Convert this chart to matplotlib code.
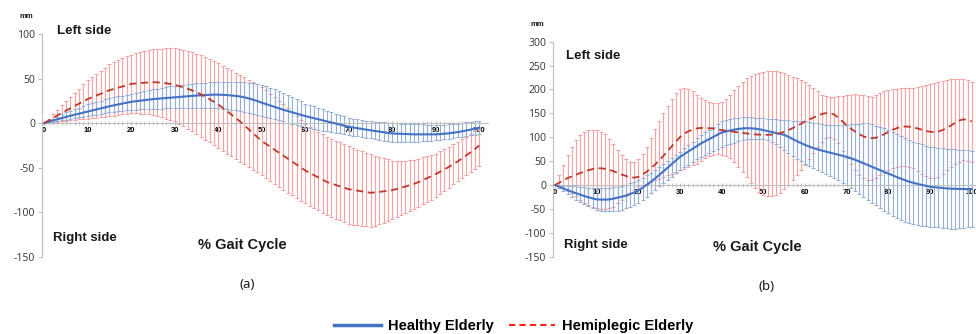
#!/usr/bin/env python3
"""
Lateral displacement over the gait cycle - healthy vs hemiplegic elderly.
Two panels (a) and (b), mean curves with +/- bars at every 1 % of the cycle.
"""

import numpy as np
import matplotlib
matplotlib.use("Agg")
import matplotlib.pyplot as plt
from matplotlib.lines import Line2D

# ---------------------------------------------------------------- data
gait_pct = list(range(101))

# panel (a): mean, upper and lower end of the bars (mm)
healthy_a_mean = [
    0, 1.5, 3, 4.3, 5.7, 7, 8.3, 9.5, 10.7, 11.9, 13,
    14.2, 15.4, 16.6, 17.8, 19, 20, 21, 22, 23, 24,
    24.6, 25.2, 25.8, 26.4, 27, 27.4, 27.8, 28.2, 28.6, 29,
    29.4, 29.8, 30.2, 30.6, 31, 31.3, 31.6, 31.8, 32, 32,
    31.8, 31.5, 31.1, 30.6, 30, 29, 27.8, 26.4, 24.8, 23,
    21.4, 19.8, 18.2, 16.6, 15, 13.6, 12.2, 10.8, 9.4, 8,
    6.8, 5.6, 4.4, 3.2, 2, 0.8, -0.4, -1.6, -2.8, -4,
    -4.8, -5.6, -6.4, -7.2, -8, -8.7, -9.4, -10.1, -10.8, -11.5,
    -11.7, -11.9, -12.1, -12.3, -12.5, -12.5, -12.5, -12.5, -12.5, -12.5,
    -12.2, -11.8, -11.3, -10.7, -10, -9.1, -8.2, -7.2, -6.1, -5]
healthy_a_upper = [
    0, 2.5, 5, 7.5, 10, 12, 14, 15.8, 17.6, 19.4, 21,
    22.4, 23.8, 25.2, 26.6, 28, 29, 30, 31, 32, 33,
    34, 35, 36, 37, 38, 38.8, 39.6, 40.4, 41.2, 42,
    42.6, 43.2, 43.8, 44.4, 45, 45.3, 45.6, 45.9, 46.2, 46.5,
    46.6, 46.7, 46.7, 46.6, 46.5, 46, 45.4, 44.7, 43.9, 43,
    41.4, 39.6, 37.8, 35.9, 34, 31.6, 29.2, 26.8, 24.4, 22,
    20.4, 18.8, 17.2, 15.6, 14, 12.4, 10.8, 9.2, 7.6, 6,
    5.2, 4.4, 3.6, 2.8, 2, 1.6, 1.2, 0.8, 0.4, 0,
    -0.2, -0.4, -0.6, -0.8, -1, -1.2, -1.4, -1.6, -1.8, -2,
    -1.8, -1.5, -1.2, -0.9, -0.5, 0.2, 0.9, 1.6, 2.3, 3]
healthy_a_lower = [
    0, 0.8, 1.6, 2.4, 3.2, 4, 4.8, 5.6, 6.4, 7.2, 8,
    8.8, 9.6, 10.4, 11.2, 12, 12.6, 13.2, 13.8, 14.4, 15,
    15.2, 15.4, 15.6, 15.8, 16, 16.2, 16.4, 16.6, 16.8, 17,
    17, 17, 17, 17, 17, 16.9, 16.8, 16.7, 16.6, 16.5,
    16.1, 15.6, 15.1, 14.6, 14, 12.9, 11.8, 10.6, 9.3, 8,
    6.8, 5.6, 4.4, 3.2, 2, 0.6, -0.8, -2.2, -3.6, -5,
    -5.8, -6.6, -7.4, -8.2, -9, -9.8, -10.6, -11.4, -12.2, -13,
    -13.8, -14.6, -15.4, -16.2, -17, -17.8, -18.6, -19.4, -20.2, -21,
    -21.1, -21.2, -21.2, -21.1, -21, -20.6, -20.2, -19.8, -19.4, -19,
    -18.4, -17.8, -17.2, -16.6, -16, -15.2, -14.4, -13.6, -12.8, -12]

hemi_a_mean = [
    0, 2.9, 5.8, 8.6, 11.4, 14, 16.7, 19.3, 21.9, 24.5, 27,
    29, 31, 33, 35, 37, 38.4, 39.8, 41.2, 42.6, 44,
    44.5, 45, 45.4, 45.7, 46, 45.8, 45.4, 44.8, 44, 43,
    41.6, 40.1, 38.5, 36.8, 35, 32.3, 29.6, 26.9, 24, 21,
    17.4, 13.6, 9.8, 5.9, 2, -2.4, -6.8, -11.2, -15.6, -20,
    -23.3, -26.6, -29.9, -33.2, -36.5, -39.8, -43.1, -46.4, -49.7, -53,
    -55.6, -58.2, -60.8, -63.4, -66, -67.6, -69.2, -70.8, -72.4, -74,
    -74.8, -75.6, -76.4, -77.2, -78, -77.6, -77, -76.4, -75.7, -75,
    -73.8, -72.4, -71, -69.5, -68, -66, -63.8, -61.6, -59.3, -57,
    -54.4, -51.7, -49, -46, -43, -39.6, -36.1, -32.5, -28.8, -25]
hemi_a_upper = [
    0, 5, 10, 15, 20, 25, 29.6, 34.2, 38.8, 43.4, 48,
    51.6, 55.2, 58.8, 62.4, 66, 68.2, 70.4, 72.6, 74.8, 77,
    78.2, 79.4, 80.6, 81.8, 83, 83.3, 83.6, 83.8, 84, 84,
    83.2, 82.2, 81, 79.6, 78, 76, 73.8, 71.6, 69.4, 67,
    64.4, 61.8, 59.2, 56.6, 54, 51.4, 48.8, 46.2, 43.4, 40.5,
    36.8, 33, 29.2, 25.4, 21.5, 17.2, 12.8, 8.4, 3.8, -1,
    -3.8, -6.6, -9.4, -12.2, -15, -17.2, -19.4, -21.6, -23.8, -26,
    -27.8, -29.6, -31.4, -33.2, -35, -36.4, -37.8, -39.2, -40.6, -42,
    -42.2, -42.2, -42, -41.6, -41, -39.6, -38.2, -36.8, -35.4, -34,
    -31.4, -28.8, -26.2, -23.6, -21, -18, -15, -12, -9, -6]
hemi_a_lower = [
    0, 0.6, 1.2, 1.8, 2.4, 3, 3.4, 3.8, 4.2, 4.6, 5,
    5.6, 6.2, 6.8, 7.4, 8, 8.6, 9.2, 9.8, 10.4, 11,
    11, 10.8, 10.4, 9.8, 9, 7.8, 6.5, 5.2, 3.7, 2,
    -0.6, -3.2, -6, -9, -12, -15.2, -18.4, -21.6, -24.8, -28,
    -31, -34, -37, -40, -43, -46, -49, -52, -55, -58,
    -61.4, -64.8, -68.2, -71.6, -75, -78, -81, -84, -87, -90,
    -92.6, -95.2, -97.8, -100.4, -103, -105, -107, -109, -111, -113,
    -113.8, -114.6, -115.2, -115.7, -116, -115, -113.4, -111.4, -109.2, -107,
    -104.8, -102.6, -100.4, -98.2, -96, -93.4, -90.8, -88.2, -85.6, -83,
    -79.4, -75.8, -72.2, -68.6, -65, -61.6, -58.2, -54.8, -51.4, -48]

# panel (b)
healthy_b_mean = [
    0, -3.6, -7.2, -10.6, -14, -17, -20, -23, -25.5, -28, -30,
    -30.5, -30.5, -30, -28.5, -26.5, -24.5, -22, -19, -15.5, -11,
    -5.5, 0.5, 7, 13.8, 21, 28.6, 36.2, 43.8, 51.4, 59,
    64.6, 70.2, 75.8, 81.4, 87, 91.6, 96.2, 100.8, 105.4, 110,
    112, 114, 116, 117.5, 118.5, 119, 118.8, 118, 116.8, 115,
    113, 111, 109, 107, 105, 101, 96.5, 92, 88, 84,
    80.6, 77.4, 74.6, 72.2, 70, 67.8, 65.6, 63.4, 61.2, 59,
    56, 52.8, 49.4, 45.8, 42, 38.4, 34.8, 31.2, 27.6, 24,
    20.4, 16.8, 13.4, 10.1, 7, 4.6, 2.4, 0.4, -1.6, -3.5,
    -4.5, -5.4, -6.2, -7, -7.6, -8, -8.2, -8.3, -8.3, -8.2]
healthy_b_upper = [
    0, -0.6, -1.2, -1.8, -2.4, -3, -3.8, -4.6, -5.4, -6.2, -7,
    -7, -6.6, -6, -5, -4, -2, 1, 4, 7, 10,
    15, 20.5, 26, 32, 38, 44.4, 50.8, 57.2, 63.6, 70,
    77, 84, 91, 98, 105, 110.6, 116.2, 121.8, 127.4, 133,
    135.5, 137.5, 139.5, 141, 142, 142, 141.6, 141.2, 140.6, 140,
    139.2, 138.4, 137.6, 136.8, 136, 135.4, 134.8, 134.2, 133.6, 133,
    131.6, 130.2, 128.8, 127.4, 126, 125.6, 125.4, 125.4, 125.6, 126,
    127, 128, 128.6, 129, 129, 127, 124.5, 121.5, 118.5, 115,
    111, 106.8, 102.6, 98.4, 94, 91, 88.2, 85.4, 82.6, 80,
    79, 78, 77, 76, 75, 74.4, 73.8, 73.2, 72.6, 72]
healthy_b_lower = [
    0, -7, -13.5, -19.5, -25.5, -31, -36, -40.5, -44.5, -48.5, -52,
    -53.5, -54.5, -55, -55, -54, -51.5, -48.5, -45, -41.5, -38,
    -31.5, -24.5, -17.5, -10.2, -3, 4, 11, 17.8, 24.4, 31,
    36.8, 42.4, 48, 53.6, 59, 63.4, 67.6, 71.8, 76, 80,
    83, 86, 89, 91.8, 94, 95.6, 96.6, 97, 96.8, 96,
    93.8, 90, 85.4, 79.6, 73, 66, 60, 54.4, 49.4, 45,
    40.8, 36.6, 32.4, 28.2, 24, 19.6, 14.8, 10, 5, 0,
    -6, -12.2, -18.4, -24.6, -31, -36.6, -42.2, -47.8, -53.4, -59,
    -63.8, -68.2, -72.4, -76.4, -80, -82, -83.8, -85.2, -86.2, -87,
    -87.8, -88.6, -89.4, -90.2, -91, -91, -90.4, -89.6, -88.4, -87]

hemi_b_mean = [
    0, 5, 10, 14.5, 18, 21.5, 25, 28, 31, 33.5, 35,
    35, 34, 32, 29, 25.5, 22, 19, 16.5, 15.5, 17,
    22, 28, 35, 43, 51.5, 61, 71, 81, 91, 100.5,
    107.5, 112.5, 116, 118.5, 119.5, 119.5, 119, 118, 116.5, 115,
    113.8, 112.6, 111.4, 110.2, 109, 108, 107, 106, 105.5, 105,
    105, 105.5, 106.5, 108.5, 111.5, 115, 119, 123.5, 128, 133,
    137, 141, 145, 148.5, 150.5, 150.5, 147.5, 141, 133, 125,
    118, 112, 106.5, 102, 99, 98, 99, 102, 106.5, 111,
    115.5, 119, 121.5, 122.5, 122, 120.5, 118.5, 116, 113.5, 111.5,
    111, 112, 115, 119.5, 124.5, 130, 135, 137.5, 136.5, 133]
hemi_b_upper = [
    0, 20, 42, 62, 80, 94, 105, 111, 115, 116, 115,
    112, 107, 97, 86, 74, 63, 54, 48, 48, 54,
    65, 80, 99, 118, 135, 150, 166, 181, 193, 200,
    203, 202, 196, 188, 182, 177, 173, 171, 171, 174,
    180, 188, 198, 208, 216, 223, 228, 232, 235, 237,
    238, 239, 238, 237, 234, 230, 227, 223, 220, 216,
    210, 204, 196, 189, 186, 185, 185, 186, 187, 188,
    189, 190, 189, 188, 186, 185, 188, 192, 196, 199,
    201, 202, 203, 204, 204, 204, 205, 207, 209, 211,
    214, 216, 218, 220, 221, 222, 222, 222, 219, 216]
hemi_b_lower = [
    0, -3, -7, -12, -17, -24, -31, -37, -42, -46, -49,
    -51, -51, -49, -45, -38, -31, -24, -17, -10, -3,
    0, 3, 6.5, 10, 13.5, 17, 20.5, 24, 27.5, 31,
    34.5, 38, 41.5, 45, 51, 56, 60, 63, 64, 63,
    60, 56, 48, 38, 28, 17, 5, -7, -15, -21,
    -23.5, -24, -21, -17, -9, 0, 10, 21, 31, 42,
    54, 66, 79, 91, 98, 101, 96, 87, 72, 56,
    43, 31, 21, 14, 11, 10, 14, 21, 26, 31,
    35, 38, 39.5, 40, 38, 35, 30, 24, 18, 14,
    14, 17, 23, 31, 38, 45, 49, 52, 51, 49]

a_yticks = [100, 50, 0, -50, -100, -150]
b_yticks = [300, 250, 200, 150, 100, 50, 0, -50, -100, -150]
x_major = [0, 10, 20, 30, 40, 50, 60, 70, 80, 90, 100]

# ---------------------------------------------------------------- style
BLUE = '#4472c4'
BLUE_BAR = '#95b0d6'
RED = '#c0392b'
RED_BAR = '#f3a3a3'
GREY = '#bfbfbf'
FONT = 'Noto Sans'
BOLD_FONT = 'Liberation Sans'

W, H = 976, 334
fig = plt.figure(figsize=(W / 100, H / 100), dpi=100)


def px(x, y):
    """Pixel position (top-left origin) to figure fraction."""
    return x / W, 1 - y / H


def bars(ax, mean, upper, lower, color):
    mean = np.array(mean)
    err = [mean - np.array(lower), np.array(upper) - mean]
    ax.errorbar(gait_pct, mean, yerr=err, fmt='none', ecolor=color,
                elinewidth=0.8, capsize=1.3, capthick=0.8, zorder=2)


def setup_axes(ax, yticks, ylim):
    ax.set_xlim(-0.5, 102)
    ax.set_ylim(*ylim)
    for side in ('top', 'right'):
        ax.spines[side].set_visible(False)
    ax.spines['left'].set_color(GREY)
    ax.spines['bottom'].set_position(('data', 0))
    ax.spines['bottom'].set_color(GREY)
    ax.set_yticks(yticks)
    ax.set_yticklabels([str(t) for t in yticks], fontsize=7.5,
                       color='#404040', family=FONT)
    ax.tick_params(axis='y', length=3, color=GREY, pad=2)
    ax.set_xticks(x_major)
    ax.set_xticks(gait_pct, minor=True)
    ax.set_xticklabels([str(t) for t in x_major], fontsize=5.5,
                       fontweight='bold', family=BOLD_FONT)
    ax.tick_params(axis='x', which='both', direction='inout', length=3,
                   color=GREY, pad=1)
    ax.patch.set_visible(False)


# panel (a)
ax_a = fig.add_axes([42 / W, 1 - 257 / H, 446 / W, 223 / H])
bars(ax_a, hemi_a_mean, hemi_a_upper, hemi_a_lower, RED_BAR)
bars(ax_a, healthy_a_mean, healthy_a_upper, healthy_a_lower, BLUE_BAR)
ax_a.plot(gait_pct, healthy_a_mean, color=BLUE, lw=1.5, zorder=4)
ax_a.plot(gait_pct, hemi_a_mean, color=RED, lw=1.3, ls=(0, (4, 2.5)), zorder=5)
setup_axes(ax_a, a_yticks, (-150, 100))

# panel (b)
ax_b = fig.add_axes([553 / W, 1 - 256.7 / H, 427 / W, 215 / H])
bars(ax_b, hemi_b_mean, hemi_b_upper, hemi_b_lower, RED_BAR)
bars(ax_b, healthy_b_mean, healthy_b_upper, healthy_b_lower, BLUE_BAR)
ax_b.plot(gait_pct, healthy_b_mean, color=BLUE, lw=1.5, zorder=4)
ax_b.plot(gait_pct, hemi_b_mean, color=RED, lw=1.3, ls=(0, (4, 2.5)), zorder=5)
setup_axes(ax_b, b_yticks, (-150, 300))

# annotations
bold = dict(fontweight='bold', family=BOLD_FONT, color='#1a1a1a')
fig.text(*px(26, 16), 'mm', fontsize=5.5, ha='center', va='center', **bold)
fig.text(*px(537, 24), 'mm', fontsize=5.5, ha='center', va='center', **bold)
fig.text(*px(57, 31), 'Left side', fontsize=9.5, va='center', **bold)
fig.text(*px(566, 56), 'Left side', fontsize=9.5, va='center', **bold)
fig.text(*px(53, 238), 'Right side', fontsize=9.5, va='center', **bold)
fig.text(*px(564, 245), 'Right side', fontsize=9.5, va='center', **bold)
fig.text(*px(198, 245), '% Gait Cycle', fontsize=10.5, va='center', **bold)
fig.text(*px(713, 247), '% Gait Cycle', fontsize=10.5, va='center', **bold)
fig.text(*px(247, 285), '(a)', fontsize=9.5, ha='center', va='center',
         family=FONT, color='#1a1a1a')
fig.text(*px(767, 287), '(b)', fontsize=9.5, ha='center', va='center',
         family=FONT, color='#1a1a1a')

handles = [Line2D([], [], color=BLUE, lw=2.5),
           Line2D([], [], color='#ff2020', lw=1.5, ls=(0, (3, 2)))]
leg = fig.legend(handles, ['Healthy Elderly', 'Hemiplegic Elderly'],
                 loc='center', bbox_to_anchor=px(514, 326), ncol=2,
                 frameon=False, handlelength=3.2, handletextpad=0.5,
                 columnspacing=1.0, prop=dict(family=BOLD_FONT, weight='bold',
                                              size=10.5))

fig.savefig('out.png', dpi=100)
